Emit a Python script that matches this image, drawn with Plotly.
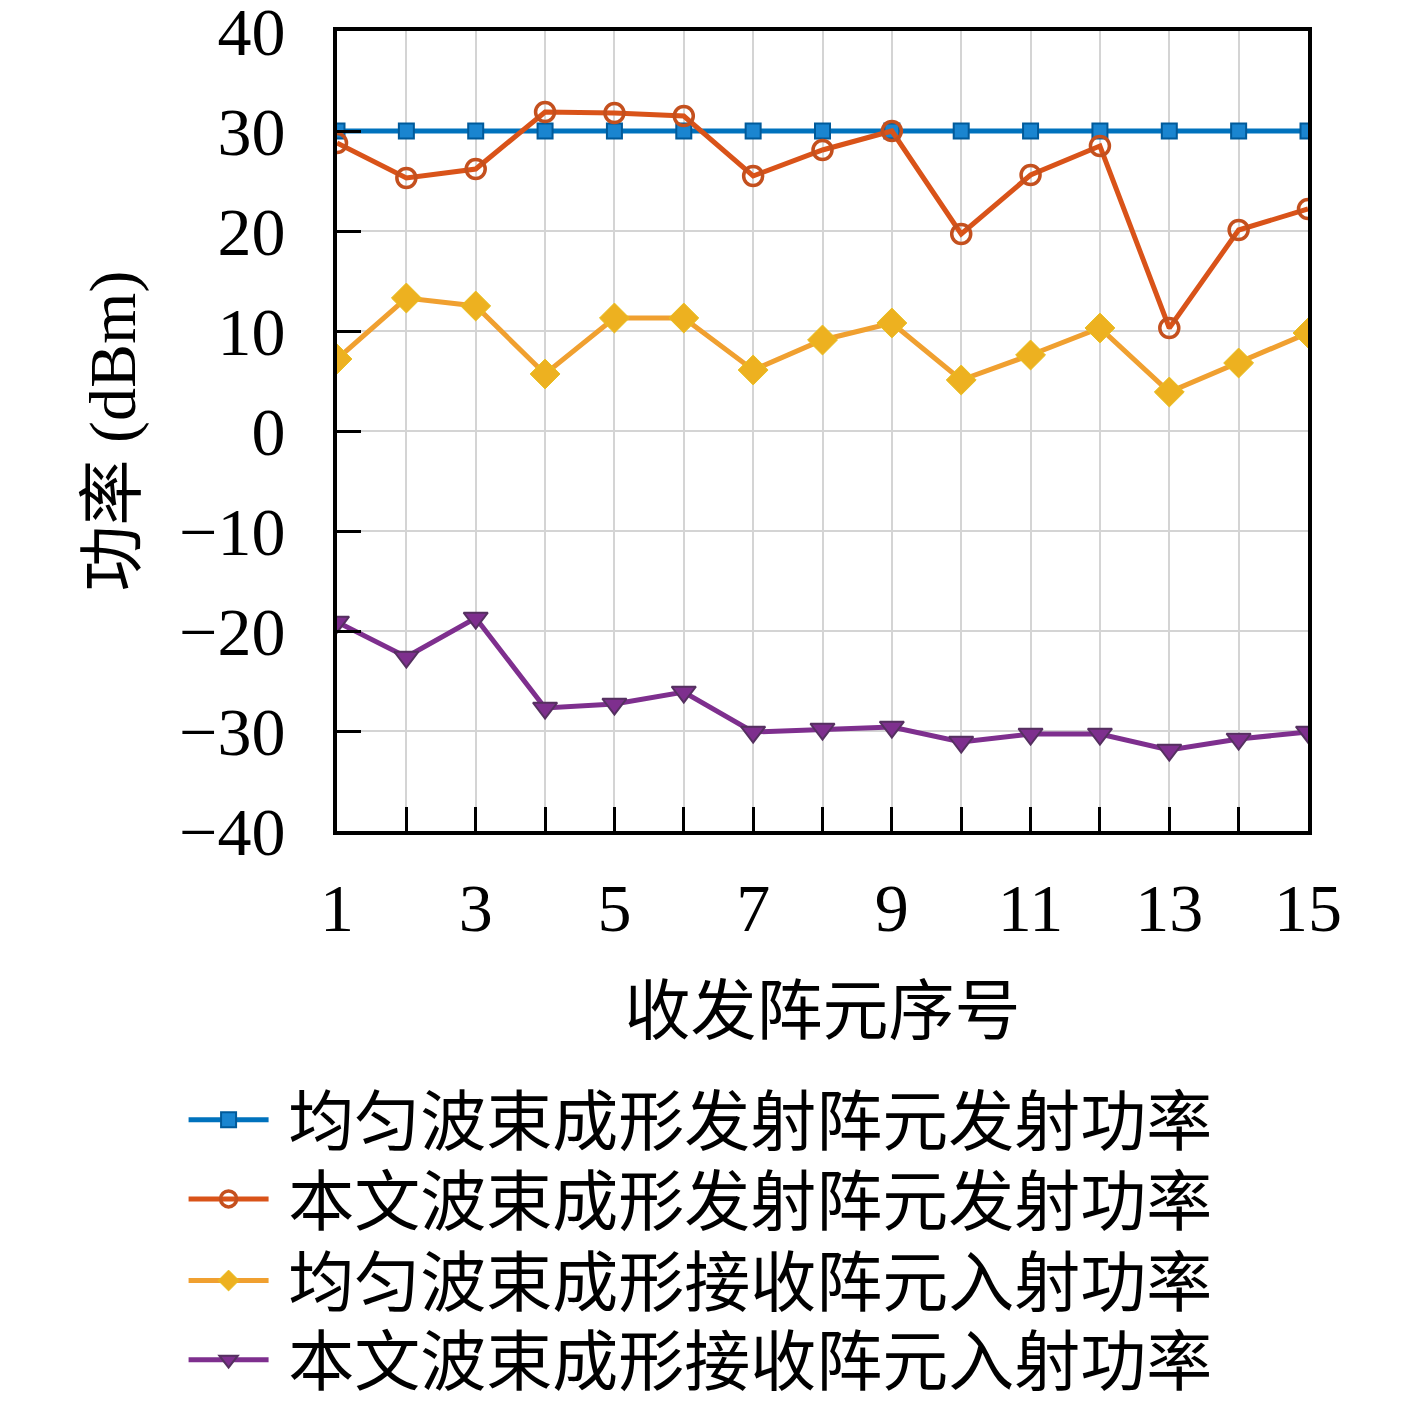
import plotly.graph_objects as go

x_idx = list(range(1, 16))
uniform_tx = [30, 30, 30, 30, 30, 30, 30, 30, 30, 30, 30, 30, 30, 30, 30]
proposed_tx = [28.8, 25.3, 26.2, 31.9, 31.8, 31.5, 25.5, 28.1, 30.0, 19.7, 25.6, 28.5, 10.3, 20.1, 22.2]
uniform_rx = [7.2, 13.3, 12.5, 5.7, 11.3, 11.3, 6.1, 9.1, 10.8, 5.1, 7.6, 10.3, 3.9, 6.8, 9.8]
proposed_rx = [-19.1, -22.6, -18.7, -27.7, -27.3, -26.1, -30.1, -29.8, -29.6, -31.1, -30.3, -30.3, -31.9, -30.8, -30.1]

names = ["均匀波束成形发射阵元发射功率", "本文波束成形发射阵元发射功率",
         "均匀波束成形接收阵元入射功率", "本文波束成形接收阵元入射功率"]
x_ticktext = ["1", "", "3", "", "5", "", "7", "", "9", "", "11", "", "13", "", "15"]
y_tickvals = [40, 30, 20, 10, 0, -10, -20, -30, -40]
y_ticktext = ["40", "30", "20", "10", "0", "−10", "−20", "−30", "−40"]

FONT = "Liberation Serif, Noto Sans CJK SC"
CJK = "Noto Sans CJK SC"

fig = go.Figure()
fig.add_trace(go.Scatter(x=x_idx, y=uniform_tx, name="\u00a0" + names[0], mode="lines+markers",
                         legend="legend",
                         line=dict(color="#0072BD", width=5),
                         marker=dict(symbol="square", size=15, color="#1a85d0",
                                     line=dict(color="#005a9a", width=2))))
fig.add_trace(go.Scatter(x=x_idx, y=proposed_tx, name="\u00a0" + names[1], mode="lines+markers",
                         legend="legend2",
                         line=dict(color="#D95319", width=5),
                         marker=dict(symbol="circle-open", size=19, color="#C4501E",
                                     line=dict(width=3.5))))
fig.add_trace(go.Scatter(x=x_idx, y=uniform_rx, name="\u00a0" + names[2], mode="lines+markers",
                         legend="legend3",
                         line=dict(color="#F0A030", width=5),
                         marker=dict(symbol="diamond", size=23, color="#EDB120",
                                     line=dict(color="#E8C020", width=1))))
fig.add_trace(go.Scatter(x=x_idx, y=proposed_rx, name="\u00a0" + names[3], mode="lines+markers",
                         legend="legend4",
                         line=dict(color="#7E2F8E", width=5),
                         marker=dict(symbol="triangle-down", size=21, color="#7E2F8E",
                                     line=dict(color="#553060", width=2))))

def leg(y):
    return dict(x=-0.158, y=y, xanchor="left", yanchor="middle",
                font=dict(family=CJK, size=66, color="black"),
                bgcolor="rgba(0,0,0,0)", itemwidth=80)

fig.update_layout(
    width=1417, height=1413,
    margin=dict(l=329, r=117, t=23, b=585),
    paper_bgcolor="white", plot_bgcolor="white",
    font=dict(family=FONT, size=68, color="black"),
    showlegend=True,
    legend=leg(-0.361), legend2=leg(-0.460), legend3=leg(-0.562), legend4=leg(-0.661),
)
fig.update_xaxes(
    range=[1, 15], tickmode="array", tickvals=x_idx, ticktext=x_ticktext,
    ticks="inside", ticklen=24, tickwidth=3, tickcolor="black",
    showline=True, linecolor="black", linewidth=4, mirror=True,
    showgrid=True, gridcolor="#d4d4d4", gridwidth=1.5, zeroline=False,
    tickfont=dict(family=FONT, size=68), ticklabelstandoff=14,
    ticklabeloverflow="allow", automargin=False,
    title=dict(text="收发阵元序号", font=dict(family=CJK, size=66), standoff=44),
)
fig.update_yaxes(
    range=[-40, 40], tickmode="array", tickvals=y_tickvals, ticktext=y_ticktext,
    ticks="inside", ticklen=24, tickwidth=3, tickcolor="black",
    showline=True, linecolor="black", linewidth=4, mirror=True,
    showgrid=True, gridcolor="#d4d4d4", gridwidth=1.5, zeroline=False,
    tickfont=dict(family=FONT, size=68), ticklabelstandoff=34,
    ticklabeloverflow="allow", automargin=False,
    title=dict(text="功率 (dBm)", font=dict(family=FONT, size=66), standoff=23),
)

fig.write_html("out.html")
